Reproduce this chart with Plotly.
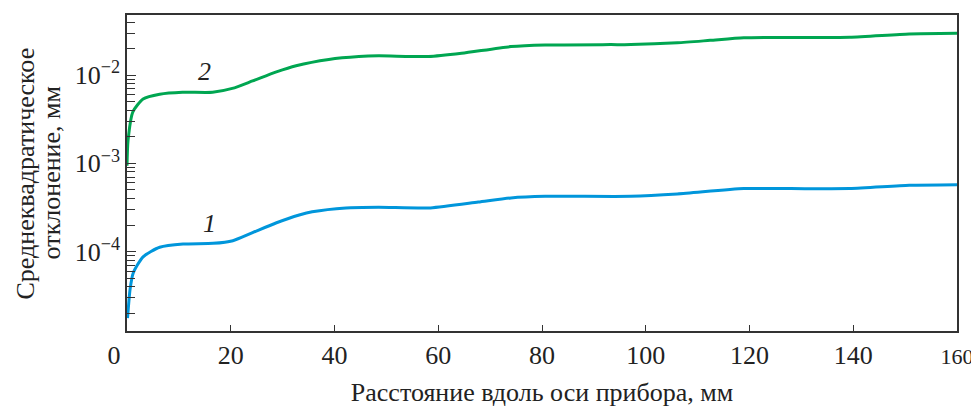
import math
import plotly.graph_objects as go

# Curve 2 (green)
green_x = [0.0, 0.2, 1.15, 3.1, 6.3, 10.7, 16.5, 20.3, 24.2, 28.8, 32.6, 38.9, 44.7, 48.5,
           58.1, 64.5, 74.0, 80.6, 93.2, 97.1, 106.1, 112.4, 118.9, 128.0, 139.3, 150.8, 160.0]
green_y = [9.4e-4, 1.82e-3, 3.86e-3, 5.36e-3, 6.08e-3, 6.40e-3, 6.40e-3, 7.08e-3, 8.6e-3,
           0.0109, 0.0128, 0.01507, 0.01626, 0.01656, 0.01626, 0.0177, 0.0211, 0.0220, 0.0222,
           0.0222, 0.0233, 0.0248, 0.0265, 0.0268, 0.0269, 0.0293, 0.0298]

# Curve 1 (blue)
blue_x = [0.1, 0.6, 1.2, 3.1, 6.3, 10.8, 16.6, 20.4, 24.2, 28.7, 33.2, 35.7, 42.2, 48.5,
          58.5, 67.7, 74.0, 80.6, 97.1, 106.1, 118.9, 128.0, 139.3, 150.8, 160.0]
blue_y = [1.76e-5, 3.76e-5, 5.73e-5, 8.73e-5, 1.12e-4, 1.22e-4, 1.24e-4, 1.33e-4, 1.64e-4,
          2.11e-4, 2.60e-4, 2.83e-4, 3.13e-4, 3.18e-4, 3.13e-4, 3.64e-4, 4.06e-4, 4.23e-4,
          4.23e-4, 4.50e-4, 5.18e-4, 5.18e-4, 5.18e-4, 5.64e-4, 5.73e-4]

x_ticks = [0, 20, 40, 60, 80, 100, 120, 140, 160]
x_ticktext = ["0\u2003", "20", "40", "60", "80", "100", "120", "140",
              "<span style='font-size:22px'>160</span>"]
y_ticks = [1e-4, 1e-3, 1e-2]
y_ticktext = ["10<sup>\u22124</sup>", "10<sup>\u22123</sup>", "10<sup>\u22122</sup>"]

curve_labels = ["2", "1"]
label_x = [15.0, 15.9]
label_y = [0.0109, 2.07e-4]

x_title = "Расстояние вдоль оси прибора, мм"
y_title_lines = ["Среднеквадратическое", "отклонение, мм"]

FONT = "Liberation Serif, Times New Roman, serif"
AX = "#333333"
FS = 26

fig = go.Figure()
fig.add_trace(go.Scatter(x=green_x, y=green_y, mode="lines",
                         line=dict(color="#00a651", width=3, shape="spline", smoothing=0.6),
                         showlegend=False, hoverinfo="skip"))
fig.add_trace(go.Scatter(x=blue_x, y=blue_y, mode="lines",
                         line=dict(color="#0096db", width=3, shape="spline", smoothing=0.6),
                         showlegend=False, hoverinfo="skip"))

for t, lx, ly in zip(curve_labels, label_x, label_y):
    fig.add_annotation(x=lx, y=math.log10(ly), text=f"<i>{t}</i>",
                       showarrow=False, font=dict(family=FONT, size=FS, color="#222"))

# y-axis title: two rotated lines, tightly spaced, as in the original
for line, px, py in zip(y_title_lines, [-0.1223, -0.0911], [0.5, 0.5]):
    fig.add_annotation(xref="paper", yref="paper", x=px, y=py, text=line,
                       textangle=-90, showarrow=False, xanchor="center", yanchor="middle",
                       font=dict(family=FONT, size=FS, color="#222"))

# page body has an 8px default margin; size and margins compensate for it
fig.update_layout(
    width=971, height=399,
    margin=dict(l=119, r=18, t=5, b=67),
    paper_bgcolor="white", plot_bgcolor="white",
    font=dict(family=FONT, size=FS, color="#222"),
    xaxis=dict(
        range=[0, 160], tickvals=x_ticks, ticktext=x_ticktext,
        ticks="inside", ticklen=6, tickwidth=1.2, tickcolor=AX,
        showline=True, linecolor=AX, linewidth=1.5, mirror=True,
        showgrid=False, zeroline=False,
        tickfont=dict(family=FONT, size=FS),
        title=dict(text=x_title, font=dict(family=FONT, size=FS), standoff=14),
    ),
    yaxis=dict(
        type="log", range=[-4.9, -1.318],
        tickvals=y_ticks, ticktext=y_ticktext,
        ticks="inside", ticklen=9, tickwidth=1.2, tickcolor=AX,
        minor=dict(ticks="inside", ticklen=8, tickwidth=1.2, tickcolor=AX, dtick="D1", showgrid=False),
        showline=True, linecolor=AX, linewidth=1.5, mirror=True,
        showgrid=False, zeroline=False,
        tickfont=dict(family=FONT, size=FS),
    ),
)

fig.write_html("out.html", config={"displayModeBar": False})
